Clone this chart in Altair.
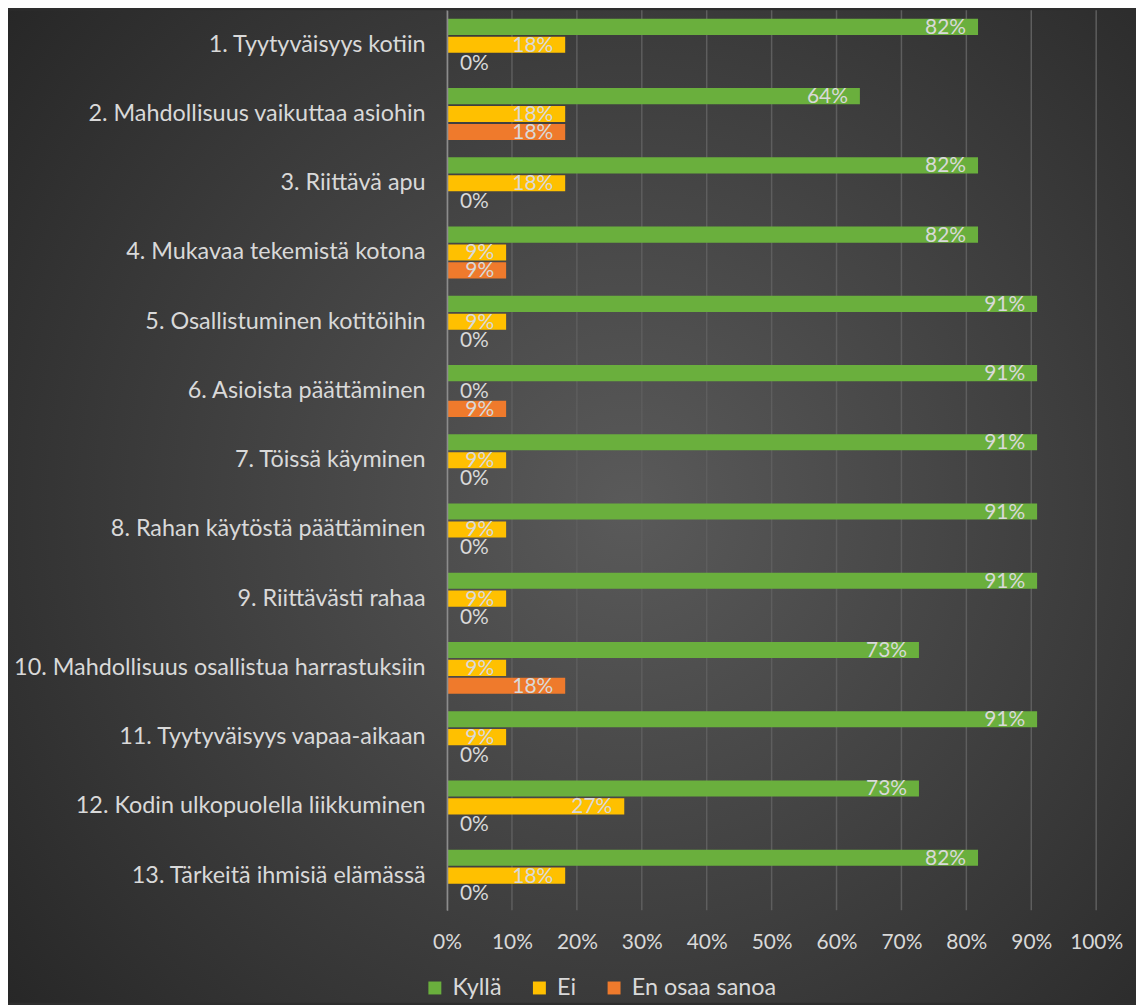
import altair as alt
import pandas as pd

categories = [
    "1. Tyytyväisyys kotiin",
    "2. Mahdollisuus vaikuttaa asiohin",
    "3. Riittävä apu",
    "4. Mukavaa tekemistä kotona",
    "5. Osallistuminen kotitöihin",
    "6. Asioista päättäminen",
    "7. Töissä käyminen",
    "8. Rahan käytöstä päättäminen",
    "9. Riittävästi rahaa",
    "10. Mahdollisuus osallistua  harrastuksiin",
    "11. Tyytyväisyys vapaa-aikaan ",
    "12. Kodin ulkopuolella liikkuminen",
    "13. Tärkeitä ihmisiä elämässä",
]
series = ["Kyllä", "Ei", "En osaa sanoa"]
kylla = [0.818, 0.636, 0.818, 0.818, 0.909, 0.909, 0.909, 0.909, 0.909, 0.727, 0.909, 0.727, 0.818]
ei = [0.182, 0.182, 0.182, 0.091, 0.091, 0.0, 0.091, 0.091, 0.091, 0.091, 0.091, 0.273, 0.182]
eos = [0.0, 0.182, 0.0, 0.091, 0.0, 0.091, 0.0, 0.0, 0.0, 0.182, 0.0, 0.0, 0.0]
colors = ["#6aaf3d", "#ffc000", "#ef7a2c"]
x_ticks = [0.0, 0.1, 0.2, 0.3, 0.4, 0.5, 0.6, 0.7, 0.8, 0.9, 1.0]

rows = []
for i, c in enumerate(categories):
    for s, vals in zip(series, [kylla, ei, eos]):
        rows.append({"cat": c, "series": s, "value": vals[i]})
df = pd.DataFrame(rows)
ticks_df = pd.DataFrame({"t": x_ticks})

TXT = "#d9d9d9"
FS_TXT = 23.5
FS_NUM = 21

x_enc = alt.X("value:Q", scale=alt.Scale(domain=[0, 1]),
              axis=alt.Axis(format=".0%", values=x_ticks, grid=False, domain=False,
                            ticks=False, labelPadding=21, labelFontSize=FS_NUM,
                            labelColor=TXT, title=None, zindex=1,
                            labelOverlap=False, labelFlush=False))
y_enc = alt.Y("cat:N", sort=categories,
              scale=alt.Scale(paddingInner=0.25, paddingOuter=0.125),
              axis=alt.Axis(title=None, ticks=False, domain=True, domainColor="#8c8c8c",
                            domainWidth=1.5, labelPadding=22, labelFontSize=FS_TXT,
                            labelColor=TXT, labelLimit=600, zindex=1))
yoff_enc = alt.YOffset("series:N", sort=series,
                       scale=alt.Scale(paddingInner=0.1, paddingOuter=0))

bg = alt.Chart(alt.Data(values=[{"a": 1}])).mark_rect(
    color=alt.Gradient(
        gradient="radial",
        stops=[alt.GradientStop(color="#5a5a5a", offset=0),
               alt.GradientStop(color="#262626", offset=1)],
        x1=0.55, y1=0.5, r1=0, x2=0.55, y2=0.5, r2=0.72,
    )
).encode(x=alt.value(-441), x2=alt.value(692), y=alt.value(0), y2=alt.value(997))

grid = alt.Chart(ticks_df).mark_rule(color="#5e5e5e", strokeWidth=1.5).encode(
    x=alt.X("t:Q", scale=alt.Scale(domain=[0, 1]))
)

bars = alt.Chart(df).mark_bar().encode(
    x=x_enc,
    y=y_enc,
    yOffset=yoff_enc,
    color=alt.Color("series:N", sort=series,
                    scale=alt.Scale(domain=series, range=colors),
                    legend=alt.Legend(title=None, orient="none", direction="horizontal",
                                      legendX=-24, legendY=970, symbolType="square",
                                      symbolSize=169, symbolStrokeWidth=0,
                                      labelFontSize=FS_TXT, labelColor=TXT, labelOffset=6,
                                      columnPadding=26, padding=0, zindex=1)),
)

labels_pos = alt.Chart(df).transform_filter("datum.value > 0").mark_text(
    align="right", baseline="middle", dx=-12, dy=1, fontSize=FS_NUM, color=TXT
).encode(x="value:Q", y=alt.Y("cat:N", sort=categories), yOffset=alt.YOffset("series:N", sort=series),
         text=alt.Text("value:Q", format=".0%"))

labels_zero = alt.Chart(df).transform_filter("datum.value == 0").mark_text(
    align="left", baseline="middle", dx=13, dy=1, fontSize=FS_NUM, color=TXT
).encode(x="value:Q", y=alt.Y("cat:N", sort=categories), yOffset=alt.YOffset("series:N", sort=series),
         text=alt.Text("value:Q", format=".0%"))

chart = alt.layer(bg, grid, bars, labels_pos, labels_zero).properties(
    width=652, height=904,
    autosize=alt.AutoSizeParams(type="none"),
    padding={"left": 441, "top": 0, "right": 40, "bottom": 93},
    background="#2e2e2e",
).configure(font="Lato").configure_view(stroke=None)

chart.save("out.html", embed_options={"renderer": "svg", "actions": False})
